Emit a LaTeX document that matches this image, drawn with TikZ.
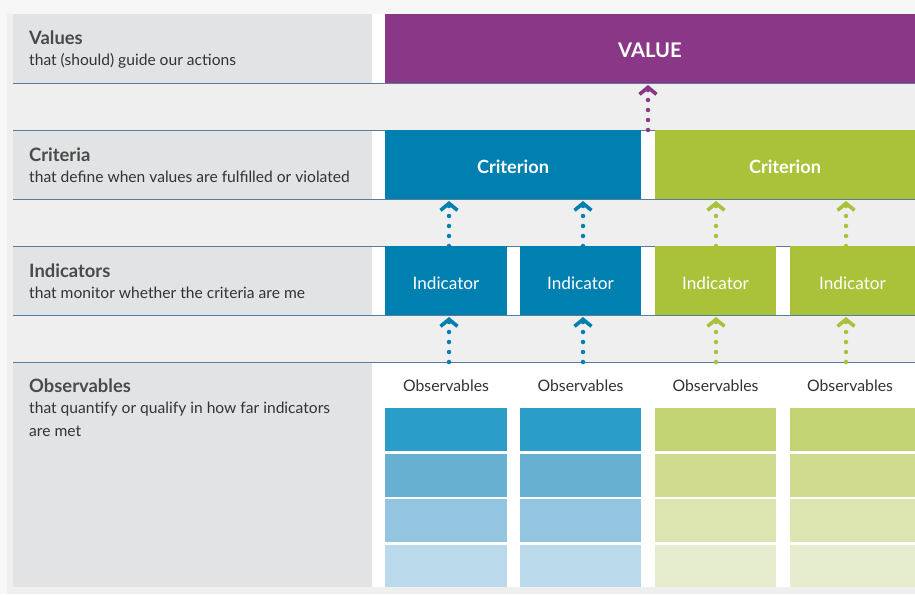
\documentclass[tikz,border=0pt]{standalone}
\usepackage{fontspec}
\setmainfont{Lato}
\usetikzlibrary{arrows.meta}
\definecolor{outerbg}{HTML}{F7F7F7}
\definecolor{panelbg}{HTML}{EFEFEF}
\definecolor{labelbg}{HTML}{E2E3E5}
\definecolor{rule}{HTML}{5A7C9C}
\definecolor{cpurple}{HTML}{8A3787}
\definecolor{cblue}{HTML}{0080B0}
\definecolor{cgreen}{HTML}{A9C23A}
\definecolor{ob1}{HTML}{2A9DC9}
\definecolor{ob2}{HTML}{67B0D2}
\definecolor{ob3}{HTML}{93C4E0}
\definecolor{ob4}{HTML}{BAD9EB}
\definecolor{og1}{HTML}{C2D373}
\definecolor{og2}{HTML}{D0DB8F}
\definecolor{og3}{HTML}{DCE5AF}
\definecolor{og4}{HTML}{E6EDCE}
\definecolor{titletext}{HTML}{4A4A4A}
\definecolor{subtext}{HTML}{333333}
\begin{document}
\begin{tikzpicture}[x=1pt,y=-1pt,
  box/.style={anchor=north west, inner sep=0pt, outer sep=0pt, draw=none, text=white},
  btxt/.style={text height=17pt, text depth=0pt},
  lab/.style={anchor=north west, inner sep=0pt, outer sep=0pt, fill=labelbg, minimum width=359pt},
  ttl/.style={anchor=base west, inner sep=0pt, text=titletext, font=\fontsize{18.4}{21}\selectfont\bfseries},
  sub/.style={anchor=base west, inner sep=0pt, text=subtext, font=\fontsize{15.6}{22.5}\selectfont, align=left},
  obh/.style={anchor=base, inner sep=0pt, text=subtext, font=\fontsize{15.8}{18}\selectfont},
  flow/.style={line width=4.5pt, line cap=round, dash pattern=on 0pt off 10pt, shorten >=2pt,
    -{Straight Barb[length=7pt, width=17pt, line width=3.6pt, sharp]}},
  hrule/.style={draw=rule, line width=0.9pt}
]
\useasboundingbox (0,0) rectangle (915,594);
\fill[outerbg] (0,0) rectangle (915,594);
\fill[panelbg] (7,14) rectangle (915,594);
% white backgrounds for colored rows
\fill[white] (372,14) rectangle (915,83);
\fill[white] (372,130) rectangle (915,199);
\fill[white] (372,246) rectangle (915,315);
\fill[white] (372,362) rectangle (915,587);
% label boxes
\node[lab, minimum height=69pt] (lv) at (13,14) {};
\node[lab, minimum height=69pt] (lc) at (13,130) {};
\node[lab, minimum height=69pt] (li) at (13,246) {};
\node[lab, minimum height=225pt] (lo) at (13,362) {};
% rules
\foreach \yy in {83,130,199,246,315,362} \draw[hrule] (13,\yy) -- (915,\yy);
% labels
\node[ttl] (tv) at (29,45) {Values};
\node[sub] (sv) at (29,66) {that (should) guide our actions};
\node[ttl] (tc) at (29,161) {Criteria};
\node[sub] (sc) at (29,182) {that define when values are fulfilled or violated};
\node[ttl] (ti) at (29,277) {Indicators};
\node[sub] (si) at (29,298) {that monitor whether the criteria are me};
\node[ttl] (to) at (29,392) {Observables};
\node[sub, anchor=north west] (so) at (29,402) {that quantify or qualify in how far indicators\\are met};
% value
\node[box, btxt, fill=cpurple, minimum width=530pt, minimum height=69pt, font=\fontsize{20.2}{22}\selectfont\bfseries] (val) at (385,14) {VALUE};
% criteria
\node[box, btxt, fill=cblue, minimum width=256pt, minimum height=69pt, font=\fontsize{18.2}{20}\selectfont\bfseries] (c1) at (385,130) {Criterion};
\node[box, btxt, fill=cgreen, minimum width=260pt, minimum height=69pt, font=\fontsize{18.2}{20}\selectfont\bfseries] (c2) at (655,130) {Criterion};
% indicators
\node[box, btxt, fill=cblue, minimum width=122pt, minimum height=69pt, font=\fontsize{17.2}{19}\selectfont] (i1) at (385,246) {Indicator};
\node[box, btxt, fill=cblue, minimum width=121pt, minimum height=69pt, font=\fontsize{17.2}{19}\selectfont] (i2) at (520,246) {Indicator};
\node[box, btxt, fill=cgreen, minimum width=121pt, minimum height=69pt, font=\fontsize{17.2}{19}\selectfont] (i3) at (655,246) {Indicator};
\node[box, btxt, fill=cgreen, minimum width=125pt, minimum height=69pt, font=\fontsize{17.2}{19}\selectfont] (i4) at (790,246) {Indicator};
% observables headers
\node[obh] (h1) at (446,391) {Observables};
\node[obh] (h2) at (580.5,391) {Observables};
\node[obh] (h3) at (715.5,391) {Observables};
\node[obh] (h4) at (850,391) {Observables};
% observables blocks
\foreach \xx/\ww/\cc/\nn in {385/122/b/1,520/121/b/2,655/121/g/3,790/125/g/4}{
  \node[box, fill=o\cc1, minimum width=\ww pt, minimum height=43pt] (o\nn a) at (\xx,408) {};
  \node[box, fill=o\cc2, minimum width=\ww pt, minimum height=43pt] (o\nn b) at (\xx,454) {};
  \node[box, fill=o\cc3, minimum width=\ww pt, minimum height=43pt] (o\nn c) at (\xx,499) {};
  \node[box, fill=o\cc4, minimum width=\ww pt, minimum height=42pt] (o\nn d) at (\xx,545) {};
}
% arrow anchor coordinates
\coordinate (a1) at ([xshift=3pt]i1.north);
\coordinate (a2) at ([xshift=2.5pt]i2.north);
\coordinate (a3) at ([xshift=0.5pt]i3.north);
\coordinate (a4) at ([xshift=-6.5pt]i4.north);
\coordinate (pv) at ([xshift=7pt]c1.north east);
% arrows criteria -> value
\draw[flow, draw=cpurple] (pv) -- (pv |- val.south);
% arrows indicators -> criteria
\draw[flow, draw=cblue] (a1) -- (a1 |- c1.south);
\draw[flow, draw=cblue] (a2) -- (a2 |- c1.south);
\draw[flow, draw=cgreen] (a3) -- (a3 |- c2.south);
\draw[flow, draw=cgreen] (a4) -- (a4 |- c2.south);
% arrows observables -> indicators
\draw[flow, draw=cblue] (a1 |- lo.north) -- (a1 |- i1.south);
\draw[flow, draw=cblue] (a2 |- lo.north) -- (a2 |- i2.south);
\draw[flow, draw=cgreen] (a3 |- lo.north) -- (a3 |- i3.south);
\draw[flow, draw=cgreen] (a4 |- lo.north) -- (a4 |- i4.south);
\end{tikzpicture}
\end{document}
